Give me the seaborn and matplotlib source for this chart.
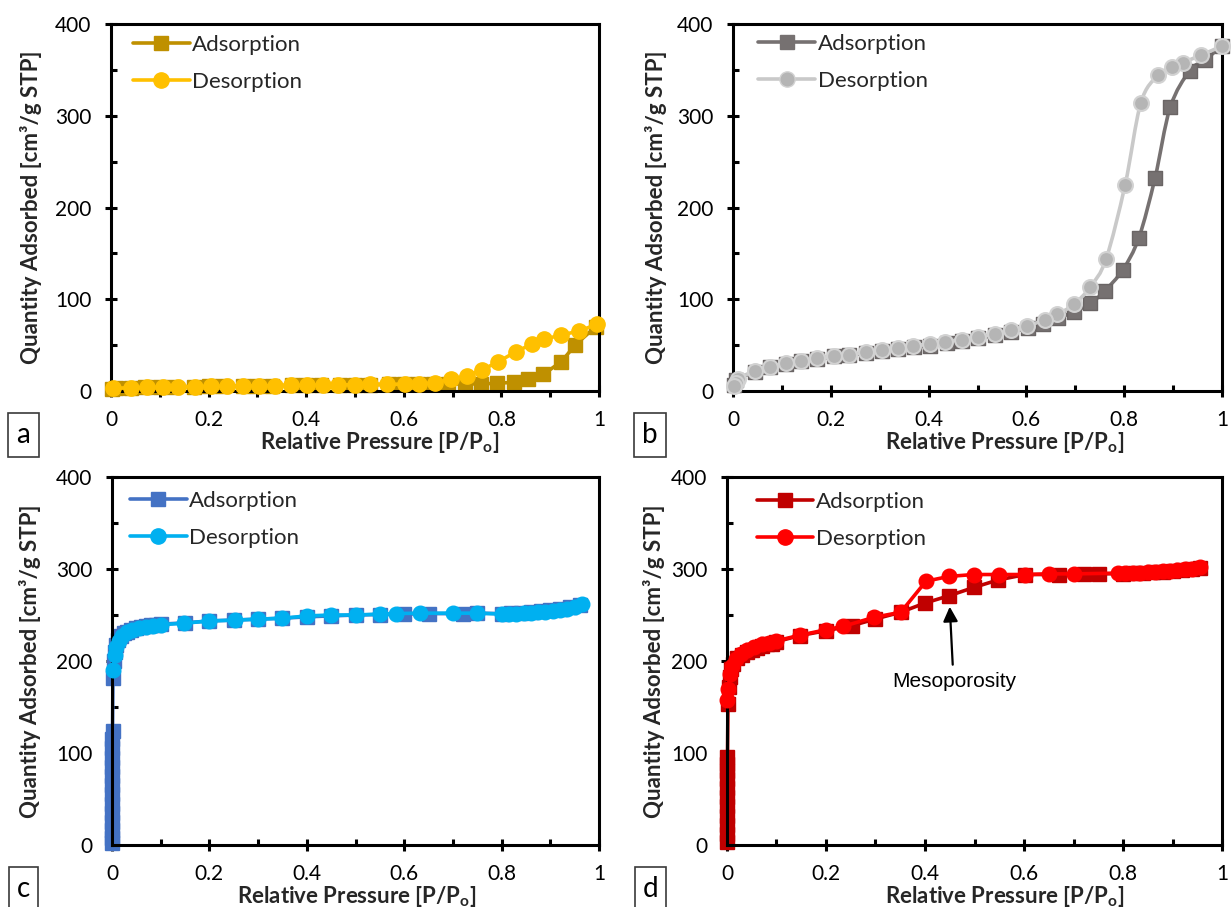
import numpy as np
import matplotlib
matplotlib.use("Agg")
import matplotlib.pyplot as plt
import seaborn as sns
from matplotlib.lines import Line2D
from matplotlib.patches import Rectangle, PathPatch
from matplotlib.path import Path

# ---------------- isotherm data ----------------
# (a) gold sample
ads_a_x = [0.003, 0.01, 0.04, 0.07, 0.1, 0.13, 0.17, 0.2, 0.23, 0.27, 0.3, 0.33, 0.37, 0.4,
           0.43, 0.47, 0.5, 0.53, 0.57, 0.6, 0.63, 0.66, 0.69, 0.725, 0.758, 0.792, 0.825,
           0.855, 0.886, 0.923, 0.951, 0.993]
ads_a_y = [2.5, 3.0, 3.5, 4.0, 4.3, 4.6, 4.9, 5.1, 5.3, 5.5, 5.7, 5.9, 6.1, 6.3, 6.5, 6.7,
           6.9, 7.0, 7.2, 7.3, 7.4, 7.5, 7.6, 7.6, 7.8, 8.4, 9.5, 12.7, 18.2, 32.0, 50.0, 70.0]
des_a_x = [0.995, 0.960, 0.922, 0.887, 0.863, 0.830, 0.794, 0.760, 0.729, 0.696, 0.663,
           0.632, 0.602, 0.565, 0.531, 0.499, 0.466, 0.434, 0.402, 0.368, 0.336, 0.304,
           0.271, 0.238, 0.205, 0.172, 0.138, 0.106, 0.074, 0.042, 0.005]
des_a_y = [72.7, 65.4, 61.0, 56.3, 51.2, 42.9, 32.0, 22.9, 16.7, 12.7, 9.1, 7.6, 7.5, 7.3,
           7.1, 6.9, 6.7, 6.5, 6.3, 6.1, 5.9, 5.7, 5.5, 5.3, 5.1, 4.9, 4.6, 4.3, 4.0, 3.6, 3.0]

# (b) grey sample
ads_b_x = [0.003, 0.006, 0.044, 0.075, 0.108, 0.140, 0.172, 0.207, 0.238, 0.271, 0.304,
           0.337, 0.370, 0.403, 0.437, 0.469, 0.502, 0.535, 0.568, 0.603, 0.634, 0.665,
           0.697, 0.731, 0.760, 0.797, 0.830, 0.863, 0.894, 0.934, 0.966, 0.999]
ads_b_y = [7.0, 12.0, 20.9, 25.7, 29.3, 33.0, 34.8, 37.8, 39.2, 41.4, 44.0, 45.8, 47.7, 49.5,
           52.0, 54.3, 57.6, 60.5, 64.2, 68.6, 73.3, 79.6, 86.2, 95.4, 109.0, 132.0, 167.0,
           232.0, 309.0, 349.0, 361.0, 376.0]
des_b_x = [1.0, 0.957, 0.920, 0.898, 0.869, 0.834, 0.802, 0.763, 0.731, 0.697, 0.663, 0.638,
           0.601, 0.568, 0.535, 0.502, 0.469, 0.434, 0.403, 0.369, 0.337, 0.304, 0.271,
           0.238, 0.207, 0.172, 0.140, 0.108, 0.075, 0.044, 0.010, 0.006, 0.002]
des_b_y = [376.0, 366.0, 358.0, 353.0, 344.0, 314.0, 225.0, 144.0, 113.7, 94.3, 83.6, 77.7,
           70.8, 66.0, 62.3, 58.7, 56.1, 53.9, 51.3, 49.5, 46.9, 44.7, 42.2, 39.6, 37.8,
           35.6, 33.0, 30.0, 26.4, 22.0, 13.0, 9.0, 5.5]

# (c) blue sample
ads_c_x = [0.0001, 0.0001, 0.0002, 0.0002, 0.0003, 0.0003, 0.0004, 0.0005, 0.0006, 0.0007,
           0.0008, 0.0009, 0.001, 0.0011, 0.002, 0.004, 0.006, 0.009, 0.013, 0.018, 0.024,
           0.03, 0.04, 0.05, 0.06, 0.07, 0.08, 0.09, 0.1, 0.15, 0.2, 0.25, 0.3, 0.35, 0.4,
           0.45, 0.5, 0.55, 0.6, 0.65, 0.72, 0.75, 0.8, 0.82, 0.84, 0.86, 0.88, 0.9, 0.92,
           0.94, 0.96]
ads_c_y = [2, 8, 16, 25, 35, 45, 55, 65, 75, 85, 95, 105, 115, 124, 182, 200, 210, 217, 223,
           227, 230, 232, 234, 236, 237, 238, 239, 239.5, 240, 241.5, 243.5, 244.5, 245.5,
           246.5, 248, 249, 250, 250.5, 251, 251.5, 251.5, 252, 251.5, 252, 252.5, 253, 254,
           255, 256.5, 258.5, 261]
des_c_x = [0.965, 0.95, 0.935, 0.92, 0.905, 0.89, 0.875, 0.86, 0.845, 0.83, 0.815, 0.80,
           0.75, 0.70, 0.633, 0.584, 0.55, 0.50, 0.45, 0.40, 0.35, 0.30, 0.253, 0.20, 0.148,
           0.10, 0.085, 0.07, 0.055, 0.042, 0.03, 0.02, 0.014, 0.009, 0.006, 0.002]
des_c_y = [262, 259, 257, 255.5, 254.5, 253.5, 253, 252.5, 252, 251.5, 251.5, 251, 252, 252,
           252, 251.6, 251, 250, 250, 249, 246.5, 245.5, 244.4, 243.6, 241, 239.5, 238.5,
           237, 235.5, 233.5, 231, 227, 222, 215, 207, 190]

# (d) red sample
ads_d_x = [0.0001, 0.0001, 0.0002, 0.0002, 0.0003, 0.0004, 0.0005, 0.0006, 0.0007, 0.0008,
           0.001, 0.002, 0.004, 0.006, 0.009, 0.013, 0.02, 0.03, 0.04, 0.05, 0.06, 0.07,
           0.08, 0.09, 0.1, 0.147, 0.201, 0.253, 0.3, 0.351, 0.4, 0.449, 0.499, 0.547, 0.603,
           0.67, 0.722, 0.751, 0.8, 0.82, 0.84, 0.86, 0.88, 0.9, 0.92, 0.94, 0.955]
ads_d_y = [3, 12, 22, 32, 42, 52, 62, 72, 80, 88, 96, 153, 172, 183, 191, 197, 203, 207, 210,
           212, 214, 216, 218, 219, 221, 227.6, 233, 238.5, 245.7, 253, 263, 271, 280, 288,
           294, 294, 294.7, 294.7, 295, 295.5, 296, 296.5, 297, 297.5, 298.5, 300, 301.5]
des_d_x = [0.955, 0.94, 0.925, 0.91, 0.895, 0.88, 0.865, 0.85, 0.835, 0.82, 0.805, 0.79,
           0.70, 0.65, 0.603, 0.549, 0.499, 0.449, 0.402, 0.351, 0.297, 0.235, 0.2, 0.147,
           0.1, 0.085, 0.07, 0.055, 0.04, 0.028, 0.018, 0.011, 0.006, 0.003, 0.001]
des_d_y = [302, 300.5, 299.5, 298.5, 298, 297.5, 297, 296.5, 296, 296, 295.5, 295.5, 294.7,
           294.7, 294, 294, 294, 292, 286.7, 253, 247.5, 237.7, 234, 228, 222, 220, 218, 215,
           212, 208, 202, 195, 186, 170, 158]

x_ticks = [0, 0.2, 0.4, 0.6, 0.8, 1.0]
x_tick_labels = ["0", "0.2", "0.4", "0.6", "0.8", "1"]
y_ticks = [0, 100, 200, 300, 400]
series_labels = ["Adsorption", "Desorption"]
panel_letters = ["a", "b", "c", "d"]

# ---------------- styling ----------------
sns.set_style("white")
plt.rcParams["font.family"] = ["Lato", "DejaVu Sans"]
plt.rcParams["mathtext.fontset"] = "custom"
plt.rcParams["mathtext.rm"] = "Lato"
plt.rcParams["mathtext.bf"] = "Lato:bold"

W, H = 1231, 907
fig = plt.figure(figsize=(W / 100, H / 100), dpi=100)
fig.patch.set_facecolor("white")


def axes_at(left, top, right, bottom):
    return fig.add_axes([left / W, 1 - bottom / H, (right - left) / W, (bottom - top) / H])


def style_axes(ax, minor_x_dir="in"):
    ax.set_xlim(0, 1)
    ax.set_ylim(0, 400)
    ax.set_xticks(x_ticks)
    ax.set_xticklabels(x_tick_labels)
    ax.set_yticks(y_ticks)
    ax.set_xticks([0.1, 0.3, 0.5, 0.7, 0.9], minor=True)
    ax.set_yticks([50, 150, 250, 350], minor=True)
    ax.tick_params(which="major", direction="inout", length=8, width=2.2,
                   labelsize=15, colors="black", pad=10)
    ax.tick_params(which="minor", direction="in", length=4, width=2.2, colors="black")
    ax.tick_params(axis="x", which="minor", direction=minor_x_dir)
    ax.tick_params(bottom=True, left=True, top=False, right=False)
    ax.tick_params(axis="x", which="minor", bottom=True)
    ax.tick_params(axis="y", which="minor", left=True)
    for s in ax.spines.values():
        s.set_visible(True)
        s.set_linewidth(2.2)
        s.set_color("black")
    ax.grid(False)
    ax.set_facecolor("white")


def label_axes(ax, xlab_x, xlab_y, ylab_x):
    ax.set_xlabel("Relative Pressure [P/P$_\\mathbf{o}$]", fontsize=16,
                  fontweight="bold", va="center", ha="center")
    ax.set_ylabel("Quantity Adsorbed [cm³/g STP]", fontsize=16,
                  fontweight="bold", va="center", ha="center")
    ax.xaxis.set_label_coords(xlab_x, xlab_y)
    ax.yaxis.set_label_coords(ylab_x, 0.5)


def legend(ax, c_ads, c_des, x0, y0, ads_kw=None, des_kw=None):
    ads_kw = ads_kw or {}
    des_kw = des_kw or {}
    h1 = Line2D([], [], color=c_ads, lw=2.6, marker="s", markersize=10,
                markerfacecolor=ads_kw.get("mfc", c_ads),
                markeredgecolor=ads_kw.get("mec", c_ads))
    h2 = Line2D([], [], color=des_kw.get("lc", c_des), lw=2.6, marker="o", markersize=11,
                markerfacecolor=des_kw.get("mfc", c_des),
                markeredgecolor=des_kw.get("mec", c_des))
    ax.legend([h1, h2], series_labels, loc="upper left", bbox_to_anchor=(x0, y0),
              frameon=False, fontsize=16, handlelength=2.55, handletextpad=0.12,
              labelspacing=0.76, borderpad=0, borderaxespad=0)


def draw(ax, x, y, color, marker, ms, lw=2.6, mec=None, z=2):
    sns.lineplot(x=x, y=y, ax=ax, sort=False, estimator=None, color=color,
                 marker=marker, markersize=ms, markeredgecolor=mec or color,
                 markeredgewidth=1.0, linewidth=lw, clip_on=False, zorder=z, legend=False)


def smooth_path(x, y):
    pts = np.column_stack([x, y]).astype(float)
    n = len(pts)
    verts = [pts[0]]
    codes = [Path.MOVETO]
    for i in range(n - 1):
        p0 = pts[i - 1] if i > 0 else pts[i]
        p1, p2 = pts[i], pts[i + 1]
        p3 = pts[i + 2] if i + 2 < n else pts[i + 1]
        verts += [p1 + (p2 - p0) / 6.0, p2 - (p3 - p1) / 6.0, p2]
        codes += [Path.CURVE4] * 3
    return Path(verts, codes)


def panel_box(letter, x0, y0, x1, y1):
    fig.add_artist(Rectangle((x0 / W, 1 - y1 / H), (x1 - x0) / W, (y1 - y0) / H,
                             transform=fig.transFigure, fill=False,
                             edgecolor="#3a3a3a", linewidth=1.2))
    fig.text((x0 + x1) / 2 / W, 1 - (y0 + y1) / 2 / H, letter, ha="center", va="center",
             fontsize=20, color="black")


# ---------------- panel a ----------------
ax_a = axes_at(111, 24, 599, 391)
style_axes(ax_a, minor_x_dir="out")
draw(ax_a, ads_a_x, ads_a_y, "#BF9000", "s", 9.5, z=2)
draw(ax_a, des_a_x, des_a_y, "#FFC000", "o", 11, z=3)
label_axes(ax_a, 0.55, -0.139, -0.164)
legend(ax_a, "#BF9000", "#FFC000", 0.045, 0.97)

# ---------------- panel b ----------------
ax_b = axes_at(733, 24, 1222, 391)
style_axes(ax_b)
ax_b.add_patch(PathPatch(smooth_path(ads_b_x, ads_b_y), facecolor="none",
                         edgecolor="#767171", lw=2.6, zorder=2, clip_on=False))
sns.scatterplot(x=ads_b_x, y=ads_b_y, ax=ax_b, marker="s", s=100, color="#767171",
                edgecolor="#6a6565", linewidth=1.0, zorder=3, clip_on=False, legend=False)
ax_b.add_patch(PathPatch(smooth_path(des_b_x, des_b_y), facecolor="none",
                         edgecolor="#C9C9C9", lw=2.6, zorder=4, clip_on=False))
sns.scatterplot(x=des_b_x, y=des_b_y, ax=ax_b, marker="o", s=115, color="#B5B5B5",
                edgecolor="#D2D2D2", linewidth=1.5, zorder=5, clip_on=False, legend=False)
label_axes(ax_b, 0.555, -0.139, -0.157)
legend(ax_b, "#767171", "#C9C9C9", 0.052, 0.973,
       des_kw={"mfc": "#B5B5B5", "mec": "#D2D2D2", "lc": "#C9C9C9"})

# ---------------- panel c ----------------
ax_c = axes_at(112, 477, 599, 845)
style_axes(ax_c)
draw(ax_c, ads_c_x, ads_c_y, "#4472C4", "s", 9.5, z=2)
draw(ax_c, des_c_x, des_c_y, "#00B0F0", "o", 10.5, z=3)
label_axes(ax_c, 0.503, -0.141, -0.168)
legend(ax_c, "#4472C4", "#00B0F0", 0.037, 0.962)

# ---------------- panel d ----------------
ax_d = axes_at(727, 477, 1222, 845)
style_axes(ax_d)
draw(ax_d, ads_d_x, ads_d_y, "#C00000", "s", 9.5, z=2)
draw(ax_d, des_d_x, des_d_y, "#FF0000", "o", 10.5, z=3)
label_axes(ax_d, 0.56, -0.141, -0.148)
legend(ax_d, "#C00000", "#FF0000", 0.06, 0.96)
ax_d.annotate("", xy=(0.45, 259), xytext=(0.456, 196),
              arrowprops=dict(arrowstyle="-|>", color="black", lw=1.6, mutation_scale=22,
                              shrinkA=0, shrinkB=0), zorder=6)
ax_d.text(0.46, 178, "Mesoporosity", ha="center", va="center", fontsize=15,
          family=["Liberation Sans", "DejaVu Sans"], color="black", zorder=6)

# ---------------- panel letters ----------------
panel_box(panel_letters[0], 8, 413, 39, 457)
panel_box(panel_letters[1], 634, 413, 666, 457)
panel_box(panel_letters[2], 9, 867, 38, 911)
panel_box(panel_letters[3], 635, 867, 666, 911)

fig.savefig("out.png", dpi=100, facecolor="white")
